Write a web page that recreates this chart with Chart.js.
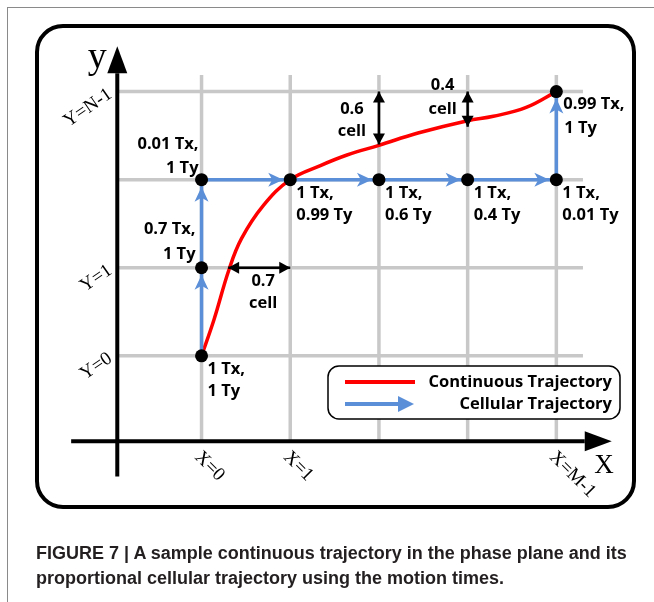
<!DOCTYPE html>
<html>
<head>
<meta charset="utf-8">
<title>Continuous vs cellular trajectory</title>
<script src="https://cdn.jsdelivr.net/npm/chart.js@4.4.1/dist/chart.umd.min.js"></script>
<style>
    html, body { margin: 0; padding: 0; background: #fff; }
    #wrap { position: relative; width: 654px; height: 602px; overflow: hidden; }
    #frame { position: absolute; left: 7px; top: 7px; width: 700px; height: 700px;
             border-left: 1px solid #8a8a8a; border-top: 1px solid #8a8a8a; }
    #box { position: absolute; left: 35px; top: 24px; width: 601px; height: 485px; box-sizing: border-box;
           border: 4px solid #000; border-radius: 28px; }
    #chart { position: absolute; left: 0; top: 0; }
    #caption { position: absolute; left: 36px; top: 541px; font: bold 18px 'Liberation Sans', Arial, sans-serif;
               line-height: 25px; color: #231f20; white-space: nowrap; }
</style>
</head>
<body>
<div id="wrap">
    <div id="frame"></div>
    <div id="box"></div>
    <canvas id="chart" width="654" height="602"></canvas>
    <div id="caption">FIGURE 7 | A sample continuous trajectory in the phase plane and its<br>proportional cellular trajectory using the motion times.</div>
</div>
<script>
// Grid in cell units
const gridCols = [0, 1, 2, 3, 4];
const gridRows = [0, 1, 2, 3];
const gridSpanX = [-0.95, 4.3];
const gridSpanY = [-0.96, 3.19];

// Axes (line ends at the arrowhead base)
const axisXRange = [-1.47, 4.32];
const axisYRange = [-1.37, 3.21];
const axisXLevel = -0.97;
const axisYLevel = -0.95;

// Tick labels
const xTickCols = [0, 1, 4];
const xTickLabels = ['X=0', 'X=1', 'X=M-1'];
const yTickRows = [0, 1, 3];
const yTickLabels = ['Y=0', 'Y=1', 'Y=N-1'];

// Continuous trajectory
const curveX = [0, 0.14, 0.31, 0.45, 0.70, 1.0, 1.34, 1.64, 2.0, 2.44, 3.0, 3.29, 3.66, 4.0];
const curveY = [0, 0.41, 0.98, 1.33, 1.71, 2.0, 2.16, 2.28, 2.39, 2.53, 2.67, 2.72, 2.82, 3.0];

// Cellular trajectory and motion times at each cell
const cellX = [0, 0, 0, 1, 2, 3, 4, 4];
const cellY = [0, 1, 2, 2, 2, 2, 2, 3];
const cellTimes = [
    ['1 Tx,', '1 Ty'], ['0.7 Tx,', '1 Ty'], ['0.01 Tx,', '1 Ty'], ['1 Tx,', '0.99 Ty'],
    ['1 Tx,', '0.6 Ty'], ['1 Tx,', '0.4 Ty'], ['1 Tx,', '0.01 Ty'], ['0.99 Tx,', '1 Ty']
];

// Gaps between curve and cell lines
const gapValues = [0.7, 0.6, 0.4];

const seriesNames = ['Continuous Trajectory', 'Cellular Trajectory'];

const RED = '#ff0000';
const BLUE = '#5b8fd8';
const GRID = '#c8c8c8';
const LABEL_FONT = "bold 16.5px 'Open Sans', sans-serif";
const SERIF = "'Liberation Serif', 'DejaVu Serif', serif";

// pixel size of one cell: 90.5 x 90, origin cell at (199, 357)
const xMin = -199 / 90.5, xMax = (654 - 199) / 90.5;
const yMax = 357 / 90, yMin = (357 - 602) / 90;

function pts(xs, ys) {
    return xs.map((x, i) => ({ x: x, y: ys[i] }));
}

// grid segments, broken by null points
const gridData = [];
gridCols.forEach(c => {
    gridData.push({ x: c, y: gridSpanY[0] }, { x: c, y: gridSpanY[1] }, { x: c, y: null });
});
gridRows.forEach(r => {
    gridData.push({ x: gridSpanX[0], y: r }, { x: gridSpanX[1], y: r }, { x: gridSpanX[1], y: null });
});

// double arrows showing the gaps
const gapData = [
    [{ x: 1 - gapValues[0], y: 1 }, { x: 1, y: 1 }],
    [{ x: 2, y: 3 }, { x: 2, y: 3 - gapValues[1] }],
    [{ x: 3, y: 3 }, { x: 3, y: 3 - gapValues[2] }]
];

function arrowHead(ctx, x, y, angle, len, half, notch, color) {
    ctx.save();
    ctx.translate(x, y);
    ctx.rotate(angle);
    ctx.beginPath();
    ctx.moveTo(0, 0);
    ctx.lineTo(-len, -half);
    ctx.lineTo(-len + notch, 0);
    ctx.lineTo(-len, half);
    ctx.closePath();
    ctx.fillStyle = color;
    ctx.fill();
    ctx.restore();
}

const arrowPlugin = {
    id: 'arrows',
    afterDatasetDraw(chart, args) {
        const ds = chart.data.datasets[args.index];
        const p = args.meta.data;
        const ctx = chart.ctx;
        if (ds.arrowKind === 'axis') {
            // arrowhead grows out of the last point
            const a = p[p.length - 2], b = p[p.length - 1];
            const ang = Math.atan2(b.y - a.y, b.x - a.x);
            const len = 27;
            arrowHead(ctx, b.x + len * Math.cos(ang), b.y + len * Math.sin(ang), ang, len, 10, 0, '#000');
        } else if (ds.arrowKind === 'steps') {
            for (let i = 1; i < p.length; i++) {
                const a = p[i - 1], b = p[i];
                const ang = Math.atan2(b.y - a.y, b.x - a.x);
                arrowHead(ctx, b.x - 7 * Math.cos(ang), b.y - 7 * Math.sin(ang), ang, 15, 7, 4, BLUE);
            }
        } else if (ds.arrowKind === 'double') {
            const a = p[0], b = p[1];
            const ang = Math.atan2(b.y - a.y, b.x - a.x);
            arrowHead(ctx, b.x, b.y, ang, 11, 6, 0, '#000');
            arrowHead(ctx, a.x, a.y, ang + Math.PI, 11, 6, 0, '#000');
        }
    },
    afterDraw(chart) {
        const ctx = chart.ctx;
        const sx = chart.scales.x, sy = chart.scales.y;
        const px = v => sx.getPixelForValue(v);
        const py = v => sy.getPixelForValue(v);
        ctx.save();
        ctx.fillStyle = '#000';

        // motion times next to the cells
        ctx.font = LABEL_FONT;
        ctx.textBaseline = 'middle';
        cellTimes.forEach((lines, i) => {
            const x = px(cellX[i]), y = py(cellY[i]);
            if (i === 1) {
                ctx.textAlign = 'right';
                ctx.fillText(lines[0], x - 6, y - 38);
                ctx.fillText(lines[1], x - 6, y - 13);
            } else if (i === 2) {
                ctx.textAlign = 'right';
                ctx.fillText(lines[0], x - 3, y - 35);
                ctx.fillText(lines[1], x - 3, y - 11);
            } else if (i === 7) {
                ctx.textAlign = 'left';
                ctx.fillText(lines[0], x + 7, y + 13);
                ctx.fillText(lines[1], x + 8, y + 37);
            } else {
                ctx.textAlign = 'left';
                ctx.fillText(lines[0], x + 6, y + 14);
                ctx.fillText(lines[1], x + 6, y + 36);
            }
        });

        // gap labels
        ctx.textAlign = 'center';
        const g0x = (px(gapData[0][0].x) + px(gapData[0][1].x)) / 2, g0y = py(1);
        ctx.fillText(gapValues[0].toString(), g0x + 4, g0y + 14);
        ctx.fillText('cell', g0x + 4, g0y + 36);
        const g1x = px(2), g1y = (py(3) + py(3 - gapValues[1])) / 2;
        ctx.fillText(gapValues[1].toString(), g1x - 27, g1y - 9);
        ctx.fillText('cell', g1x - 27, g1y + 13);
        const g2x = px(3), g2y = (py(3) + py(3 - gapValues[2])) / 2;
        ctx.fillText(gapValues[2].toString(), g2x - 25, g2y - 24);
        ctx.fillText('cell', g2x - 25, g2y);

        // axis names
        ctx.font = '38px ' + SERIF;
        ctx.fillText('y', px(axisYLevel) - 20, 58);
        ctx.font = '27px ' + SERIF;
        ctx.fillText('X', 604, 466);

        // rotated tick labels
        ctx.font = '19px ' + SERIF;
        yTickRows.forEach((r, i) => {
            ctx.save();
            ctx.translate(px(axisYLevel) - 7, py(r) + 1);
            ctx.rotate(-0.6);
            ctx.textAlign = 'right';
            ctx.fillText(yTickLabels[i], 0, 0);
            ctx.restore();
        });
        xTickCols.forEach((c, i) => {
            ctx.save();
            ctx.translate(px(c) - 4, py(axisXLevel) + 13);
            ctx.rotate(Math.PI / 4);
            ctx.textAlign = 'left';
            ctx.fillText(xTickLabels[i], 0, 0);
            ctx.restore();
        });

        // legend
        ctx.beginPath();
        ctx.roundRect(328, 366, 292, 53, 11);
        ctx.lineWidth = 1.5;
        ctx.strokeStyle = '#000';
        ctx.fillStyle = '#fff';
        ctx.fill();
        ctx.stroke();
        ctx.lineWidth = 4;
        ctx.strokeStyle = RED;
        ctx.beginPath();
        ctx.moveTo(345, 382);
        ctx.lineTo(415, 382);
        ctx.stroke();
        ctx.strokeStyle = BLUE;
        ctx.beginPath();
        ctx.moveTo(345, 404);
        ctx.lineTo(402, 404);
        ctx.stroke();
        arrowHead(ctx, 414, 404, 0, 16, 8, 0, BLUE);
        ctx.fillStyle = '#000';
        ctx.font = LABEL_FONT;
        ctx.textAlign = 'right';
        ctx.fillText(seriesNames[0], 612, 382);
        ctx.fillText(seriesNames[1], 612, 404);
        ctx.restore();
    }
};

const datasets = [
    { data: pts(cellX, cellY), showLine: false, pointRadius: 6.5, pointBackgroundColor: '#000',
      pointBorderWidth: 0, order: 0 },
    { label: seriesNames[1], data: pts(cellX, cellY), borderColor: BLUE, borderWidth: 3.5, pointRadius: 0,
      tension: 0, arrowKind: 'steps', order: 1 },
    { label: seriesNames[0], data: pts(curveX, curveY), borderColor: RED, borderWidth: 3.5, pointRadius: 0,
      tension: 0.4, order: 2 },
    { data: [{ x: axisXRange[0], y: axisXLevel }, { x: axisXRange[1], y: axisXLevel }], borderColor: '#000',
      borderWidth: 4, pointRadius: 0, arrowKind: 'axis', order: 3 },
    { data: [{ x: axisYLevel, y: axisYRange[0] }, { x: axisYLevel, y: axisYRange[1] }], borderColor: '#000',
      borderWidth: 4, pointRadius: 0, arrowKind: 'axis', order: 3 },
    { data: gridData, borderColor: GRID, borderWidth: 3.5, pointRadius: 0, spanGaps: false, order: 4 }
];
gapData.forEach(g => {
    datasets.push({ data: g, borderColor: '#000', borderWidth: 2.5, pointRadius: 0, arrowKind: 'double', order: 0.5 });
});

new Chart(document.getElementById('chart'), {
    type: 'line',
    data: { datasets: datasets },
    options: {
        responsive: false,
        animation: false,
        events: [],
        layout: { padding: 0 },
        plugins: { legend: { display: false }, tooltip: { enabled: false } },
        scales: {
            x: { type: 'linear', display: false, min: xMin, max: xMax },
            y: { type: 'linear', display: false, min: yMin, max: yMax }
        }
    },
    plugins: [arrowPlugin]
});
</script>
</body>
</html>
